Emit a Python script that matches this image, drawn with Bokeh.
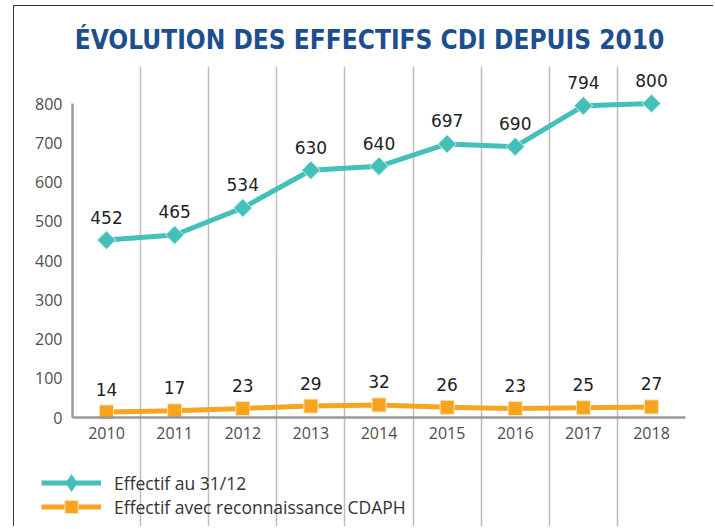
from bokeh.plotting import figure
from bokeh.models import (Range1d, FixedTicker, Grid, Legend, LegendItem,
                          ColumnDataSource, LabelSet)
from bokeh.core.properties import value
from bokeh.embed import file_html
from bokeh.resources import INLINE
import math

years = ["2010", "2011", "2012", "2013", "2014", "2015", "2016", "2017", "2018"]
effectif = [452, 465, 534, 630, 640, 697, 690, 794, 800]
cdaph = [14, 17, 23, 29, 32, 26, 23, 25, 27]
y_ticks = [0, 100, 200, 300, 400, 500, 600, 700, 800]
series_names = ["Effectif au 31/12", "Effectif avec reconnaissance CDAPH"]

TEAL = "#45bfb9"
ORANGE = "#f7a51f"

xs = list(range(len(years)))
src = ColumnDataSource(dict(x=xs, eff=effectif, cd=cdaph,
                            eff_t=[str(v) for v in effectif],
                            cd_t=[str(v) for v in cdaph]))

p = figure(width=700, height=521, output_backend="svg", toolbar_location=None,
           x_range=Range1d(-1.2037, 8.925), y_range=Range1d(-280.25, 894.3),
           min_border_left=10, min_border_right=0, min_border_top=60,
           min_border_bottom=0,
           title="ÉVOLUTION DES EFFECTIFS CDI DEPUIS 2010",
           styles={"margin-left": "13px", "margin-top": "5px",
                   "border-left": "1px solid #333",
                   "border-top": "1px solid #333"})

p.outline_line_color = None
p.background_fill_color = "white"
p.border_fill_color = "white"

p.title.align = "center"
p.title.text_font = "DejaVu Sans Condensed"
p.title.text_font_style = "bold"
p.title.text_font_size = "26px"
p.title.text_color = "#1d4f8e"
p.title.standoff = 23

# axes
p.xaxis.ticker = FixedTicker(ticks=xs)
p.xaxis.major_label_overrides = {i: y for i, y in enumerate(years)}
p.xaxis.fixed_location = 0
p.xaxis.bounds = (-0.5, len(years) - 0.5)
p.yaxis.ticker = FixedTicker(ticks=y_ticks)
p.yaxis.fixed_location = -0.5
p.yaxis.bounds = (0, 800)
for ax in (p.xaxis, p.yaxis):
    ax.axis_line_color = "#9a9a9a"
    ax.axis_line_width = 2.5
    ax.major_tick_line_color = None
    ax.minor_tick_line_color = None
    ax.major_tick_out = 0
    ax.major_tick_in = 0
    ax.major_label_text_font = "Open Sans"
    ax.major_label_text_font_size = "16px"
    ax.major_label_text_color = "#4d4d4d"
p.xaxis.major_label_standoff = 9
p.yaxis.major_label_standoff = 10

p.xgrid.grid_line_color = None
p.ygrid.grid_line_color = None
p.add_layout(Grid(dimension=0, ticker=FixedTicker(ticks=[i + 0.5 for i in xs[:-1]]),
                  bounds=(0, 800),
                  grid_line_color="#bdbdbd", grid_line_width=1.5))

# series
l1 = p.line("x", "eff", source=src, line_color=TEAL, line_width=5)
# diamond used for the legend entry (hidden beneath the rotated squares)
m1_leg = p.scatter("x", "eff", source=src, marker="diamond", size=17,
                   fill_color=TEAL, line_color=None)
m1 = p.scatter("x", "eff", source=src, marker="square", angle=math.pi / 4,
               size=13, fill_color=TEAL, line_color="#c9f0ec", line_width=1)
l2 = p.line("x", "cd", source=src, line_color=ORANGE, line_width=5)
m2 = p.scatter("x", "cd", source=src, marker="square", size=14,
               fill_color=ORANGE, line_color="#fde3b5", line_width=1)

for col, txt in (("eff", "eff_t"), ("cd", "cd_t")):
    p.add_layout(LabelSet(x="x", y=col, text=txt, source=src, y_offset=23,
                          text_align="center", text_baseline="middle",
                          text_font=value("DejaVu Sans"), text_font_size="17px",
                          text_color="#222222"))

common = dict(orientation="vertical", glyph_width=60, padding=0, margin=0,
              label_standoff=13, label_text_font="Open Sans",
              label_text_font_size="17.5px", label_text_color="#333333",
              border_line_color=None, background_fill_alpha=0)
leg1 = Legend(items=[LegendItem(label=series_names[0], renderers=[l1, m1_leg])],
              location=(17, 22), glyph_height=45, **common)
leg2 = Legend(items=[LegendItem(label=series_names[1], renderers=[l2, m2])],
              location=(17, 4), glyph_height=33, **common)
p.add_layout(leg1)
p.add_layout(leg2)

open("out.html", "w").write(file_html(p, INLINE))
